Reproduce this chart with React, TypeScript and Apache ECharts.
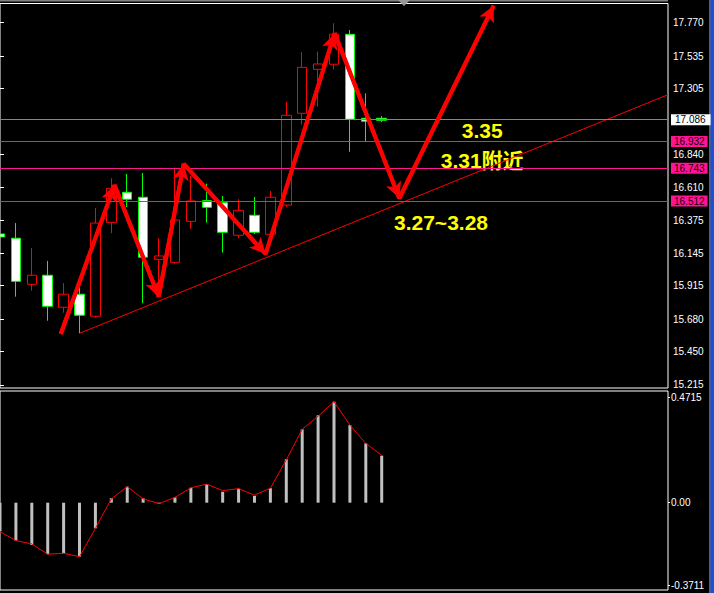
import React, { useEffect, useRef } from 'react';
import * as echarts from 'echarts';

// Bar slots shared by the price panel and the MACD panel (slot 0 is the bar cut off at the left edge)
const slots = Array.from({ length: 43 }, (_, i) => String(i));

// Price bars as [open, close, low, high]
const candles = [
  [16.280, 16.259, 16.240, 16.300],
  [16.250, 15.946, 15.838, 16.357],
  [15.925, 15.989, 15.880, 16.181],
  [15.989, 15.770, 15.668, 16.090],
  [15.763, 15.855, 15.725, 15.934],
  [15.855, 15.707, 15.580, 15.908],
  [15.700, 16.357, 15.690, 16.463],
  [16.362, 16.602, 16.285, 16.673],
  [16.574, 16.525, 16.470, 16.703],
  [16.539, 16.116, 15.791, 16.710],
  [16.101, 16.125, 15.864, 16.250],
  [16.080, 16.379, 16.070, 16.750],
  [16.369, 16.513, 16.317, 16.689],
  [16.515, 16.468, 16.360, 16.635],
  [16.501, 16.292, 16.148, 16.548],
  [16.271, 16.447, 16.250, 16.525],
  [16.412, 16.292, 16.280, 16.541],
  [16.278, 16.539, 16.250, 16.583],
  [16.484, 17.117, 16.470, 17.213],
  [17.131, 17.455, 17.051, 17.563],
  [17.441, 17.479, 17.178, 17.566],
  [17.477, 17.688, 17.441, 17.766],
  [17.688, 17.089, 16.860, 17.719],
  [17.096, 17.075, 16.931, 17.272],
  [17.096, 17.082, 17.070, 17.112],
];

// MACD histogram and signal line
const macdHist = [
  -0.128, -0.170, -0.190, -0.231, -0.227, -0.242, -0.115, 0.020, 0.072, 0.020,
  -0.006, 0.024, 0.067, 0.083, 0.049, 0.063, 0.031, 0.065, 0.195, 0.329,
  0.392, 0.453, 0.348, 0.266, 0.211,
];
const macdSignal = [
  -0.130, -0.170, -0.185, -0.231, -0.227, -0.242, -0.115, 0.017, 0.072, 0.017,
  -0.004, 0.024, 0.067, 0.083, 0.054, 0.063, 0.034, 0.065, 0.192, 0.329,
  0.388, 0.453, 0.348, 0.266, 0.213,
];

// Axis ticks
const priceTicks = [17.770, 17.535, 17.305, 16.840, 16.610, 16.375, 16.145, 15.915, 15.680, 15.450, 15.215];
const macdTicks = [0.4715, 0, -0.3711];
const macdTickLabels = ['0.4715', '0.00', '-0.3711'];

// Horizontal price levels
const lastPrice = 17.086;
const levelLines = [16.932, 16.743, 16.512];

// Hand-drawn wave path and support trend line, as [slot, price]
const wavePath = [
  [3.82, 15.575], [7.20, 16.625], [9.98, 15.838], [11.55, 16.774],
  [16.70, 16.139], [21.04, 17.695], [25.11, 16.532], [31.04, 17.89],
];
const supportLine = [[5.01, 15.580], [42, 17.262]];

// Target notes
const noteTexts = ['3.35', '3.31附近', '3.27~3.28'];

const PINK = '#ff1493';
const AXIS_FONT = '"Liberation Sans", Arial, sans-serif';
const NOTE_FONT = 'bold 21px "Liberation Sans", "Noto Sans CJK SC"';

export default function App() {
  const ref = useRef<HTMLDivElement>(null);

  useEffect(() => {
    if (!ref.current) return;
    const chart = echarts.init(ref.current, null, { renderer: 'svg' });

    const waveSegments = wavePath.slice(1).map((p, i) => [
      { coord: wavePath[i] },
      { coord: p },
    ]);

    const option: any = {
      animation: false,
      backgroundColor: '#000',
      grid: [
        { left: -2.7, right: 46, top: 3.5, height: 384.5, show: true, borderColor: '#fff', borderWidth: 1 },
        { left: -2.7, right: 46, top: 391, height: 199, show: true, borderColor: '#fff', borderWidth: 1 },
      ],
      xAxis: [
        { type: 'category', gridIndex: 0, data: slots, boundaryGap: false, show: false },
        { type: 'category', gridIndex: 1, data: slots, boundaryGap: false, show: false },
        { type: 'value', gridIndex: 0, min: 0, max: 42, show: false },
      ],
      yAxis: [
        {
          type: 'value', gridIndex: 0, position: 'right', min: 15.1938, max: 17.9054,
          splitLine: { show: false }, axisLine: { show: false },
          axisTick: { show: true, customValues: priceTicks, length: 4, lineStyle: { color: '#fff' } },
          axisLabel: {
            customValues: priceTicks, formatter: (v: number) => v.toFixed(3),
            color: '#fff', fontSize: 10, fontFamily: AXIS_FONT, margin: 5,
          },
        },
        {
          type: 'value', gridIndex: 1, position: 'right', min: -0.3915, max: 0.5009,
          splitLine: { show: false }, axisLine: { show: false },
          axisTick: { show: true, customValues: macdTicks, length: 2, lineStyle: { color: '#fff' } },
          axisLabel: {
            customValues: macdTicks,
            formatter: (v: number) => macdTickLabels[macdTicks.findIndex((t) => Math.abs(t - v) < 1e-6)] ?? '',
            color: '#fff', fontSize: 10, fontFamily: AXIS_FONT, margin: 3,
          },
        },
      ],
      series: [
        {
          type: 'candlestick',
          xAxisIndex: 0, yAxisIndex: 0,
          data: candles,
          barWidth: 10,
          itemStyle: {
            color: '#000', color0: '#fff',
            borderColor: '#ff0000', borderColor0: '#00ff00', borderWidth: 1,
          },
          markLine: {
            silent: true,
            precision: 3,
            symbol: ['none', 'none'],
            lineStyle: { type: 'solid', width: 1 },
            label: {
              show: true, position: 'end', distance: 3,
              formatter: (p: any) => Number(p.value).toFixed(3),
              fontSize: 10, fontFamily: AXIS_FONT, lineHeight: 10, padding: [1, 3, 0, 3],
            },
            data: [
              {
                yAxis: lastPrice,
                lineStyle: { color: '#778899' },
                label: { backgroundColor: '#fff', color: '#000', padding: [1, 5, 0, 4] },
              },
              ...levelLines.map((v) => ({
                yAxis: v,
                lineStyle: { color: PINK },
                label: { backgroundColor: PINK, color: '#1a0010' },
              })),
            ],
          },
        },
        {
          type: 'line',
          xAxisIndex: 2, yAxisIndex: 0,
          data: supportLine,
          symbol: 'none',
          lineStyle: { color: '#ff0000', width: 1 },
          silent: true,
        },
        {
          type: 'line',
          xAxisIndex: 2, yAxisIndex: 0,
          data: wavePath,
          symbol: 'none',
          clip: false,
          lineStyle: { color: '#ff0000', width: 4 },
          silent: true,
          markLine: {
            silent: true,
            symbol: ['none', 'arrow'],
            symbolSize: [12, 16],
            lineStyle: { color: '#ff0000', width: 4, type: 'solid' },
            itemStyle: { color: '#ff0000' },
            label: { show: false },
            data: waveSegments,
          },
        },
        {
          type: 'bar',
          xAxisIndex: 1, yAxisIndex: 1,
          data: macdHist,
          barWidth: 3,
          itemStyle: { color: '#c0c0c0' },
          silent: true,
        },
        {
          type: 'line',
          xAxisIndex: 1, yAxisIndex: 1,
          data: macdSignal,
          symbol: 'none',
          lineStyle: { color: '#ff0000', width: 1 },
          silent: true,
        },
      ],
      graphic: [
        { type: 'rect', shape: { x: 0, y: 0, width: 668, height: 1.5 }, style: { fill: '#808080' }, silent: true },
        { type: 'polygon', shape: { points: [[398, 0], [410, 0], [404, 6]] }, style: { fill: '#9a9a9a' }, silent: true },
        { type: 'rect', shape: { x: 709.5, y: 0, width: 1, height: 593 }, style: { fill: '#c0c0c0' }, silent: true },
        { type: 'rect', shape: { x: 710.5, y: 0, width: 3.5, height: 593 }, style: { fill: '#1c50dc' }, silent: true },
        {
          type: 'text', x: 461.7, y: 130, silent: true,
          style: { text: noteTexts[0], fill: '#ffff00', font: NOTE_FONT, verticalAlign: 'middle' },
        },
        {
          type: 'text', x: 440.7, y: 160, silent: true,
          style: { text: noteTexts[1], fill: '#ffff00', font: NOTE_FONT, verticalAlign: 'middle' },
        },
        {
          type: 'text', x: 394, y: 222.7, silent: true,
          style: { text: noteTexts[2], fill: '#ffff00', font: NOTE_FONT, verticalAlign: 'middle' },
        },
      ],
    };

    chart.setOption(option);
    return () => chart.dispose();
  }, []);

  return (
    <div
      ref={ref}
      style={{ position: 'absolute', left: 0, top: 0, width: 714, height: 593, background: '#000' }}
    />
  );
}
